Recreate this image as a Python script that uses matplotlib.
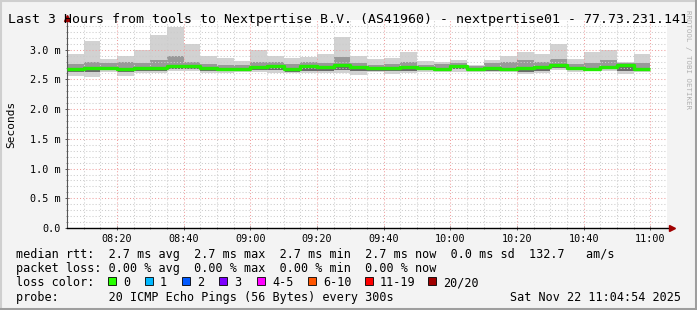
import numpy as np
import matplotlib
matplotlib.use("Agg")
import matplotlib.pyplot as plt
from matplotlib.patches import Rectangle

# Smoke data per 5-minute slot (ms), 08:05 .. 11:00
rtt_max = [2.92, 3.14, 2.84, 2.90, 3.00, 3.25, 3.38, 3.10, 2.89, 2.86, 2.81, 2.99,
           2.90, 2.86, 2.88, 2.92, 3.21, 2.89, 2.84, 2.86, 2.96, 2.81, 2.80, 2.82,
           2.75, 2.83, 2.89, 2.96, 2.93, 3.10, 2.85, 2.96, 2.99, 2.80, 2.92]
rtt_q3 = [2.76, 2.80, 2.78, 2.79, 2.77, 2.82, 2.90, 2.80, 2.76, 2.75, 2.75, 2.80,
          2.80, 2.76, 2.80, 2.78, 2.88, 2.78, 2.75, 2.76, 2.80, 2.75, 2.76, 2.78,
          2.72, 2.77, 2.80, 2.82, 2.80, 2.85, 2.76, 2.78, 2.82, 2.77, 2.78]
rtt_median = [2.67, 2.685, 2.70, 2.68, 2.69, 2.70, 2.73, 2.73, 2.69, 2.68, 2.68, 2.71,
              2.73, 2.67, 2.72, 2.71, 2.74, 2.71, 2.69, 2.69, 2.71, 2.70, 2.68, 2.72,
              2.68, 2.69, 2.67, 2.70, 2.71, 2.74, 2.70, 2.68, 2.71, 2.74, 2.68]
rtt_q1 = [2.63, 2.62, 2.66, 2.62, 2.65, 2.65, 2.68, 2.68, 2.65, 2.64, 2.65, 2.66,
          2.66, 2.63, 2.65, 2.65, 2.66, 2.64, 2.65, 2.64, 2.65, 2.66, 2.64, 2.67,
          2.65, 2.65, 2.65, 2.63, 2.65, 2.69, 2.66, 2.66, 2.67, 2.64, 2.65]
rtt_min = [2.56, 2.545, 2.63, 2.56, 2.60, 2.60, 2.64, 2.65, 2.61, 2.61, 2.63, 2.63,
           2.61, 2.61, 2.60, 2.61, 2.60, 2.58, 2.62, 2.59, 2.60, 2.63, 2.62, 2.63,
           2.62, 2.63, 2.63, 2.59, 2.60, 2.66, 2.63, 2.64, 2.64, 2.59, 2.62]

x_labels = ["08:20", "08:40", "09:00", "09:20", "09:40", "10:00", "10:20", "10:40", "11:00"]
y_labels = ["0.0", "0.5 m", "1.0 m", "1.5 m", "2.0 m", "2.5 m", "3.0 m"]

loss_labels = ["0", "1", "2", "3", "4-5", "6-10", "11-19", "20/20"]
loss_colors = ["#26ff00", "#00b8ff", "#0059ff", "#7e00ff", "#ff00ff", "#ff5500", "#ff0000", "#a10000"]

title = "Last 3 Hours from tools to Nextpertise B.V. (AS41960) - nextpertise01 - 77.73.231.141"
line_rtt = "median rtt:  2.7 ms avg  2.7 ms max  2.7 ms min  2.7 ms now  0.0 ms sd  132.7   am/s"
line_loss = "packet loss: 0.00 % avg  0.00 % max  0.00 % min  0.00 % now"
line_probe = "probe:       20 ICMP Echo Pings (56 Bytes) every 300s"
stamp = "Sat Nov 22 11:04:54 2025"

MONO = "DejaVu Sans Mono"
W, H = 697, 310
BG = "#f3f3f3"

fig = plt.figure(figsize=(W / 100, H / 100), dpi=100, facecolor=BG)

def fx(px):
    return px / W

def fy(py):
    return 1 - py / H

# plot box: x 67..667, y 20..228 (pixels)
ax = fig.add_axes([fx(67), fy(228), fx(600), 208 / H])
ax.set_facecolor("white")

n = len(rtt_median)
starts = np.arange(n) * 5.0  # minutes after 08:05
lo = np.array(rtt_min)
hi = np.array(rtt_max)
q1 = np.array(rtt_q1)
q3 = np.array(rtt_q3)
med = np.array(rtt_median)

ax.bar(starts, hi - lo, bottom=lo, width=5, align="edge", color="#d2d2d2", linewidth=0, zorder=1)
ax.bar(starts, q3 - q1, bottom=q1, width=5, align="edge", color="#999999", linewidth=0, zorder=1.1)
ax.bar(starts, med - q1, bottom=q1, width=5, align="edge", color="#6a6a6a", linewidth=0, zorder=1.2)
ax.step(np.append(starts, starts[-1] + 5), np.append(med, med[-1]), where="post",
        color="#22ee00", lw=2.4, zorder=3, solid_capstyle="butt")

ax.set_xlim(0, 180)
ax.set_ylim(0, 3.5)

# grid: minor gray, major red, dotted, above smoke
for xv in np.arange(5, 180, 5):
    major = (xv - 15) % 20 == 0
    ax.axvline(xv, color="#f0a0a0" if major else "#cccccc", lw=0.75,
               ls=(0, (1, 2)), zorder=2)
for yv in np.arange(0.1, 3.5, 0.1):
    major = abs(yv / 0.5 - round(yv / 0.5)) < 1e-6
    ax.axhline(yv, color="#f0a0a0" if major else "#cccccc", lw=0.75,
               ls=(0, (1, 2)), zorder=2)

ax.set_xticks(np.arange(15, 180, 20))
ax.set_xticklabels(x_labels, fontsize=7.3, family=MONO)
ax.set_xticks(np.arange(5, 180, 5), minor=True)
ax.set_yticks(np.arange(0, 3.01, 0.5))
ax.set_yticklabels(y_labels, fontsize=7.3, family=MONO)
ax.set_yticks(np.arange(0, 3.5, 0.1), minor=True)
ax.tick_params(axis="both", which="major", length=3, width=0.7, direction="inout",
               color="#555555", pad=3)
ax.tick_params(axis="both", which="minor", length=2, width=0.7, direction="inout",
               color="#888888")

for s in ("top", "right"):
    ax.spines[s].set_visible(False)
ax.spines["left"].set_color("#555555")
ax.spines["left"].set_linewidth(0.8)
ax.spines["bottom"].set_color("black")
ax.spines["bottom"].set_linewidth(1.0)
ax.spines["bottom"].set_bounds(0, 181)
ax.spines["left"].set_bounds(0, 3.52)

ax.plot([181.5], [0], marker=">", color="#a00000", markersize=4.5, clip_on=False, zorder=5)
ax.plot([0], [3.54], marker="^", color="#a00000", markersize=4.5, clip_on=False, zorder=5)

# title and y label
fig.text(fx(8), fy(23), title, family=MONO, fontsize=9.5, ha="left", va="baseline")
fig.text(fx(11), fy(124), "Seconds", family=MONO, fontsize=8, rotation=90,
         ha="center", va="center")
fig.text(fx(688), fy(60), "RRDTOOL / TOBI OETIKER", family=MONO, fontsize=5.3,
         rotation=-90, ha="center", va="center", color="#b0b0b0")

# legend lines
fig.text(fx(16), fy(258), line_rtt, family=MONO, fontsize=8.5, ha="left", va="baseline")
fig.text(fx(16), fy(272), line_loss, family=MONO, fontsize=8.5, ha="left", va="baseline")
fig.text(fx(16), fy(286), "loss color:", family=MONO, fontsize=8.5, ha="left", va="baseline")
fig.text(fx(16), fy(301), line_probe, family=MONO, fontsize=8.5, ha="left", va="baseline")
fig.text(fx(681), fy(301), stamp, family=MONO, fontsize=8.5, ha="right", va="baseline")

box_x = [108, 145, 182, 219, 257, 308, 365, 428]
for bx, lab, col in zip(box_x, loss_labels, loss_colors):
    fig.add_artist(Rectangle((fx(bx), fy(285)), fx(8), 8 / H, transform=fig.transFigure,
                             facecolor=col, edgecolor="black", linewidth=0.6))
    fig.text(fx(bx + 15), fy(286), lab, family=MONO, fontsize=8.5, ha="left", va="baseline")

# canvas frame
fig.add_artist(plt.Line2D([0, 1], [fy(0.5), fy(0.5)], transform=fig.transFigure, color="#cfcfcf", lw=1.5))
fig.add_artist(plt.Line2D([fx(0.5), fx(0.5)], [0, 1], transform=fig.transFigure, color="#cfcfcf", lw=1.5))
fig.add_artist(plt.Line2D([0, 1], [fy(308.5), fy(308.5)], transform=fig.transFigure, color="#9e9e9e", lw=2.2))
fig.add_artist(plt.Line2D([fx(695.5), fx(695.5)], [0, 1], transform=fig.transFigure, color="#9e9e9e", lw=2.2))

fig.savefig("out.png", dpi=100, facecolor=BG)
